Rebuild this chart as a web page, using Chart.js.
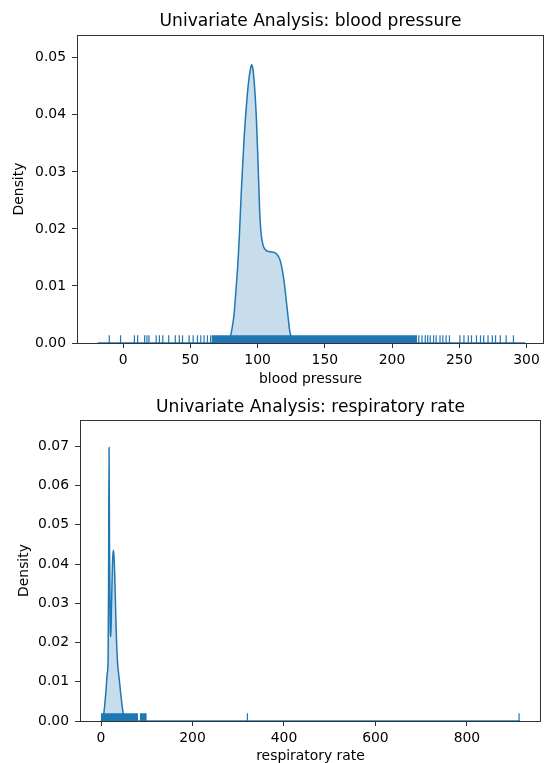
<!DOCTYPE html>
<html>
<head>
<meta charset="utf-8">
<script src="https://cdn.jsdelivr.net/npm/chart.js@4.4.1/dist/chart.umd.min.js"></script>
<style>
html,body{margin:0;padding:0;background:#fff;overflow:hidden;width:549px;height:763px}
canvas{position:absolute;left:0}
#c1{top:0}
#c2{top:390px}
</style>
</head>
<body>
<canvas id="c1" width="549" height="390"></canvas>
<canvas id="c2" width="549" height="400"></canvas>
<script>
// ---------- Blood pressure ----------
const bpTitle = 'Univariate Analysis: blood pressure';
const bpXLabel = 'blood pressure';
const bpKdeX = [-19, 76, 79, 81, 82.5, 84, 85.5, 86.5, 88, 90, 92, 93.5, 94.8, 95.6, 96.4, 97.6, 99, 100.3, 101.5, 102.5, 104, 106, 109, 112, 114.5, 116.5, 118, 119.5, 121, 122.5, 124, 126, 129, 299];
const bpKdeY = [0, 0, 0.0005, 0.0025, 0.005, 0.0095, 0.0145, 0.019, 0.027, 0.036, 0.0425, 0.0462, 0.0482, 0.0488, 0.0482, 0.0455, 0.04, 0.032, 0.0235, 0.0195, 0.0172, 0.0163, 0.016, 0.0159, 0.0155, 0.0147, 0.0133, 0.0112, 0.0082, 0.005, 0.002, 0.0005, 0, 0];
const bpRugSingles = [-10.3, -1.9, 8.4, 10.8, 16, 17.7, 19.2, 24.6, 27, 29.5, 33.9, 38.8, 41.8, 44.2, 49.1, 52.1, 55.3, 57.8, 60.2, 62.7, 65.1,
  219.9, 222.3, 224.7, 226.5, 228.4, 230.9, 232.8, 235.7, 237.8, 240.2, 242.7, 250.5, 253.5, 256.7, 259.1, 262.8, 265.8, 268.2, 271.4, 274.6, 277, 280.5, 284.9, 290.3];
const bpRugBands = [[65.8, 218.6]];
const bpXTicks = [0, 50, 100, 150, 200, 250, 300];
const bpYTicks = [0, 0.01, 0.02, 0.03, 0.04, 0.05];
const bpXRange = [-34.3, 313];
const bpYRange = [0, 0.054];

// ---------- Respiratory rate ----------
const rrTitle = 'Univariate Analysis: respiratory rate';
const rrXLabel = 'respiratory rate';
const rrKdeX = [0, 3, 5, 8, 11, 13.5, 15.5, 16.5, 17.5, 18.5, 20, 21.5, 23, 25, 26.5, 28, 30, 32, 34, 36, 38, 40, 43, 46, 49, 53, 60, 916];
const rrKdeY = [0, 0.0004, 0.001, 0.004, 0.008, 0.012, 0.016, 0.035, 0.0697, 0.045, 0.025, 0.0215, 0.03, 0.04, 0.0435, 0.0425, 0.037, 0.028, 0.02, 0.015, 0.0125, 0.0104, 0.007, 0.004, 0.0015, 0.0004, 0, 0];
const rrRugSingles = [320, 914];
const rrRugBands = [[0, 81], [84.5, 100]];
const rrXTicks = [0, 200, 400, 600, 800];
const rrYTicks = [0, 0.01, 0.02, 0.03, 0.04, 0.05, 0.06, 0.07];
const rrXRange = [-46, 962];
const rrYRange = [0, 0.0767];

const BLUE = '#1f77b4';
Chart.defaults.font.family = "'DejaVu Sans', sans-serif";
Chart.defaults.color = '#000';

const spines = {
  id: 'spines',
  afterDatasetsDraw(chart) {
    const {ctx, chartArea: a} = chart;
    ctx.save();
    ctx.strokeStyle = '#333';
    ctx.lineWidth = 1;
    const l = Math.round(a.left) + 0.5, t = Math.round(a.top) + 0.5;
    const r = Math.round(a.right) - 0.5, b = Math.round(a.bottom) + 0.5;
    ctx.strokeRect(l, t, r - l, b - t);
    ctx.restore();
  }
};

function makeChart(id, o) {
  const plotH = o.plotBottom - o.plotTop;
  const rugH = 7.7 * (o.yRange[1] - o.yRange[0]) / plotH;
  const datasets = [];
  datasets.push({
    data: o.rugSingles.map(v => ({x: v, y: rugH / 2})),
    showLine: false, pointStyle: 'line', rotation: 90,
    pointRadius: 3.85, pointHoverRadius: 3.85, pointBorderWidth: 1.2,
    borderColor: BLUE, backgroundColor: BLUE, order: 0
  });
  o.rugBands.forEach(b => {
    datasets.push({
      data: [{x: b[0], y: rugH}, {x: b[1], y: rugH}],
      showLine: true, fill: 'origin', borderWidth: 0, pointRadius: 0,
      backgroundColor: BLUE, borderColor: BLUE, order: 0
    });
  });
  datasets.push({
    data: o.kdeX.map((x, i) => ({x, y: o.kdeY[i]})),
    showLine: true, fill: 'origin', borderWidth: 1.5, pointRadius: 0,
    borderColor: BLUE, backgroundColor: 'rgba(31,119,180,0.25)',
    cubicInterpolationMode: 'monotone', order: 1
  });
  const tickFont = {size: 13.9};
  const grid = {display: true, drawOnChartArea: false, drawTicks: true, tickLength: 5, tickColor: '#333', lineWidth: 1};
  return new Chart(document.getElementById(id), {
    type: 'scatter',
    data: {datasets},
    plugins: [spines],
    options: {
      responsive: false, animation: false, events: [],
      layout: {padding: {left: 0, right: o.padRight, top: 0, bottom: 0}},
      plugins: {
        legend: {display: false}, tooltip: {enabled: false},
        title: {display: true, fullSize: false, text: o.title, font: {size: 17.1, weight: 'normal', lineHeight: 1.2},
          color: '#000', padding: {top: o.titleTop, bottom: o.titleBottom}}
      },
      scales: {
        x: {
          type: 'linear', min: o.xRange[0], max: o.xRange[1],
          afterBuildTicks: s => { s.ticks = o.xTicks.map(v => ({value: v})); },
          afterFit: s => { s.height = o.xHeight; },
          ticks: {font: tickFont, padding: 4, maxRotation: 0, autoSkip: false, color: '#000',
            callback: v => String(v)},
          grid, border: {display: false},
          title: {display: true, text: o.xLabel, font: {size: 13.9, lineHeight: 1.2}, color: '#000',
            padding: {top: 0, bottom: o.xTitleBottom}}
        },
        y: {
          type: 'linear', min: o.yRange[0], max: o.yRange[1],
          afterBuildTicks: s => { s.ticks = o.yTicks.map(v => ({value: v})); },
          afterFit: s => { s.width = o.yWidth; },
          ticks: {font: tickFont, padding: 6, color: '#000', callback: v => Number(v).toFixed(2)},
          grid, border: {display: false},
          title: {display: true, text: 'Density', font: {size: 13.9, lineHeight: 1.2}, color: '#000',
            padding: {top: o.yTitleTop, bottom: 0}}
        }
      }
    }
  });
}

makeChart('c1', {
  title: bpTitle, xLabel: bpXLabel, kdeX: bpKdeX, kdeY: bpKdeY,
  rugSingles: bpRugSingles, rugBands: bpRugBands,
  xTicks: bpXTicks, yTicks: bpYTicks, xRange: bpXRange, yRange: bpYRange,
  plotTop: 35, plotBottom: 343, yWidth: 77, xHeight: 390 - 343, padRight: 1,
  titleTop: 11.5, titleBottom: 3.0, xTitleBottom: 2.2, yTitleTop: 10.7
});

makeChart('c2', {
  title: rrTitle, xLabel: rrXLabel, kdeX: rrKdeX, kdeY: rrKdeY,
  rugSingles: rrRugSingles, rugBands: rrRugBands,
  xTicks: rrXTicks, yTicks: rrYTicks, xRange: rrXRange, yRange: rrYRange,
  plotTop: 30, plotBottom: 331, yWidth: 80, xHeight: 400 - 331, padRight: 8,
  titleTop: 7.3, titleBottom: 2.2, xTitleBottom: 25.1, yTitleTop: 15.6
});
</script>
</body>
</html>
